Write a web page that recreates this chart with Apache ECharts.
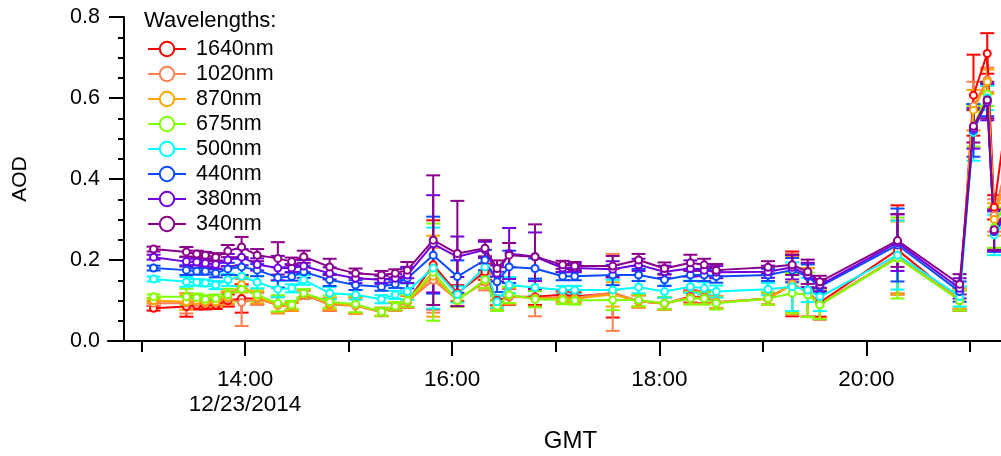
<!DOCTYPE html>
<html><head><meta charset="utf-8">
<script src="https://cdn.jsdelivr.net/npm/echarts@6/dist/echarts.min.js"></script>
<style>html,body{margin:0;padding:0;background:#fff}#c{width:1001px;height:456px}</style>
</head><body><div id="c"></div>
<script>
// ---- data ----
const times = ['13:07','13:26','13:32','13:37','13:43','13:50','13:58','14:07','14:19','14:27',
  '14:34','14:49','15:04','15:19','15:27','15:34','15:49','16:03','16:19','16:26',
  '16:33','16:48','17:04','17:11','17:33','17:48','18:03','18:18','18:26','18:33',
  '19:03','19:17','19:26','19:33','20:18','20:54','21:02','21:10','21:14','21:22'];
const wavelengths = ['1640nm','1020nm','870nm','675nm','500nm','440nm','380nm','340nm'];
const colors = ['#ff0000','#ff7f50','#ffa500','#7fff00','#00ffff','#0a4bff','#7000e0','#8b008b'];

const aod1640 = [.081,.085,.088,.088,.089,.100,.105,.105,.090,.085,.115,.090,.088,.072,.085,.097,.188,.118,.171,.100,
  .109,.109,.114,.110,.118,.098,.092,.110,.108,.095,.105,.141,.120,.095,.225,.100,.607,.710,.330,.580];
const aod1020 = [.093,.093,.095,.093,.094,.104,.095,.105,.088,.084,.115,.090,.087,.071,.085,.097,.150,.102,.145,.090,
  .110,.106,.108,.106,.120,.098,.092,.108,.107,.096,.104,.140,.120,.092,.208,.105,.580,.645,.310,.450];
const aod870 = [.100,.097,.100,.097,.097,.108,.140,.108,.090,.085,.117,.092,.088,.072,.086,.098,.160,.100,.150,.090,
  .112,.105,.105,.104,.115,.098,.093,.106,.106,.095,.104,.140,.120,.090,.205,.105,.570,.640,.300,.420];
const aod675 = [.109,.109,.107,.103,.105,.114,.128,.114,.093,.089,.118,.097,.091,.072,.086,.100,.170,.100,.151,.086,
  .114,.103,.101,.100,.101,.101,.093,.105,.105,.093,.105,.118,.114,.089,.205,.100,.530,.610,.280,.360];
const aod500 = [.153,.146,.145,.143,.138,.151,.160,.145,.128,.130,.151,.118,.114,.103,.114,.122,.180,.115,.183,.097,
  .138,.132,.126,.126,.126,.133,.122,.134,.130,.122,.128,.134,.126,.109,.212,.110,.515,.600,.262,.300];
const aod440 = [.180,.175,.172,.172,.167,.178,.183,.175,.157,.159,.171,.151,.138,.134,.141,.155,.212,.159,.200,.146,
  .183,.179,.160,.160,.163,.163,.151,.163,.163,.159,.163,.175,.159,.134,.237,.122,.520,.595,.270,.310];
const aod380 = [.207,.196,.195,.192,.189,.200,.207,.189,.180,.180,.185,.167,.155,.151,.155,.163,.240,.208,.225,.167,
  .216,.208,.180,.180,.177,.188,.171,.179,.175,.170,.171,.182,.163,.138,.243,.130,.525,.590,.272,.320];
const aod340 = [.227,.220,.215,.212,.207,.222,.232,.212,.204,.196,.208,.183,.167,.163,.167,.175,.249,.216,.229,.179,
  .212,.208,.188,.185,.185,.200,.179,.193,.188,.175,.182,.188,.171,.146,.248,.140,.530,.595,.275,.330];

const err1640 = [.006,.025,.01,.01,.01,.015,.035,.015,.02,.01,.01,.015,.02,.01,.01,.015,.11,.02,.02,.012,
  .02,.02,.01,.01,.06,.015,.015,.015,.015,.015,.015,.08,.06,.035,.11,.025,.1,.05,.03,.05];
const err1020 = [.006,.025,.01,.01,.01,.015,.058,.015,.02,.01,.01,.015,.02,.01,.01,.015,.08,.015,.02,.012,
  .02,.045,.01,.01,.095,.015,.015,.015,.015,.015,.015,.075,.06,.04,.09,.025,.06,.03,.04,.05];
const err870 = [.006,.02,.01,.01,.01,.015,.02,.015,.02,.01,.01,.015,.02,.01,.01,.015,.10,.015,.02,.012,
  .02,.02,.01,.01,.03,.015,.015,.015,.015,.015,.015,.07,.06,.035,.09,.025,.05,.03,.04,.05];
const err675 = [.006,.02,.01,.01,.01,.015,.03,.015,.02,.01,.01,.015,.02,.01,.01,.015,.12,.015,.02,.012,
  .02,.02,.01,.01,.025,.015,.015,.015,.015,.015,.015,.05,.055,.035,.10,.025,.05,.03,.05,.05];
const err500 = [.006,.012,.008,.008,.01,.015,.025,.015,.02,.01,.012,.015,.012,.01,.01,.02,.10,.02,.025,.015,
  .02,.02,.01,.01,.025,.015,.015,.015,.015,.015,.015,.06,.03,.035,.085,.025,.07,.03,.05,.05];
const err440 = [.006,.012,.008,.008,.01,.015,.02,.015,.025,.01,.015,.015,.012,.01,.01,.025,.095,.04,.025,.025,
  .04,.025,.01,.01,.025,.015,.015,.015,.015,.015,.015,.03,.03,.015,.09,.025,.065,.04,.05,.05];
const err380 = [.006,.012,.008,.008,.01,.015,.02,.015,.03,.01,.015,.015,.012,.01,.01,.02,.12,.05,.02,.02,
  .063,.06,.01,.01,.02,.015,.015,.02,.015,.015,.015,.03,.03,.015,.07,.025,.05,.045,.05,.05];
const err340 = [.006,.012,.008,.008,.01,.015,.025,.015,.04,.01,.015,.02,.012,.01,.01,.02,.16,.13,.02,.02,
  .03,.08,.01,.01,.025,.015,.015,.02,.015,.015,.015,.025,.03,.015,.065,.025,.04,.045,.05,.05];

const oddHourTicks = [13,15,17,19,21];
const labelHours = [14,16,18,20];
const dateLabel = '12/23/2014';
const yTicks = [0, 0.2, 0.4, 0.6, 0.8];
const legendTitle = 'Wavelengths:';

// ---- build ----
const aodSets = [aod1640,aod1020,aod870,aod675,aod500,aod440,aod380,aod340];
const errSets = [err1640,err1020,err870,err675,err500,err440,err380,err340];
const hours = times.map(t => { const [h,m] = t.split(':').map(Number); return h + m/60; });
const XMIN = 13 - 17.5/103.56, XMAX = 13 + 859.5/103.56;
const FONT = 'Liberation Sans, Arial, sans-serif';

function renderErr(params, api) {
  const x = api.value(0), y = api.value(1), e = api.value(2);
  const p1 = api.coord([x, y + e]);
  const p2 = api.coord([x, y - e]);
  const hw = 7;
  const style = { stroke: api.visual('color'), lineWidth: 2 };
  return { type: 'group', children: [
    { type: 'line', shape: { x1: p1[0], y1: p1[1], x2: p2[0], y2: p2[1] }, style },
    { type: 'line', shape: { x1: p1[0]-hw, y1: p1[1], x2: p1[0]+hw, y2: p1[1] }, style },
    { type: 'line', shape: { x1: p2[0]-hw, y1: p2[1], x2: p2[0]+hw, y2: p2[1] }, style }
  ]};
}

const series = [];
wavelengths.forEach((wl, i) => {
  series.push({
    type: 'custom', name: wl + ' err', xAxisIndex: 0, yAxisIndex: 0,
    renderItem: renderErr, clip: true, silent: true,
    itemStyle: { color: colors[i] },
    encode: { x: 0, y: 1 },
    data: hours.map((h, k) => [h, aodSets[i][k], errSets[i][k]])
  });
  series.push({
    type: 'line', name: wl, xAxisIndex: 0, yAxisIndex: 0, clip: true,
    symbol: 'emptyCircle', symbolSize: 7,
    color: colors[i],
    lineStyle: { width: 2, color: colors[i] },
    itemStyle: { color: colors[i], borderWidth: 1.2 },
    data: hours.map((h, k) => [h, aodSets[i][k]])
  });
});

const chart = echarts.init(document.getElementById('c'), null, { renderer: 'canvas' });
chart.setOption({
  animation: false,
  backgroundColor: '#fff',
  textStyle: { fontFamily: FONT },
  title: { text: legendTitle, left: 144, top: 10, padding: 0,
    textStyle: { fontFamily: FONT, fontSize: 22, fontWeight: 'normal', color: '#000' } },
  legend: {
    data: wavelengths, orient: 'vertical', left: 147, top: 38, padding: 0,
    itemWidth: 38, itemHeight: 18, itemGap: 3,
    textStyle: { fontFamily: FONT, fontSize: 21.5, color: '#000', lineHeight: 18, padding: [0,0,0,5] }
  },
  grid: [
    { left: 124, right: 0, top: 17, bottom: 115, containLabel: false, outerBoundsMode: 'none' },
    { left: 108, right: 0, top: 17, bottom: 115, containLabel: false, outerBoundsMode: 'none' }
  ],
  xAxis: [
    { type: 'value', gridIndex: 0, min: XMIN, max: XMAX, position: 'bottom',
      axisLine: { show: true, lineStyle: { color: '#000', width: 2 } },
      axisTick: { show: true, customValues: oddHourTicks, length: 11, lineStyle: { color: '#000', width: 2 } },
      axisLabel: { show: false }, splitLine: { show: false } },
    { type: 'value', gridIndex: 0, min: XMIN, max: XMAX, position: 'bottom',
      axisLine: { show: false },
      axisTick: { show: true, customValues: labelHours, length: 15, lineStyle: { color: '#000', width: 2 } },
      axisLabel: { show: true, customValues: labelHours, margin: 26, fontFamily: FONT, fontSize: 22.5, lineHeight: 25, color: '#000',
        formatter: v => { const h = Math.round(v); return h + ':00' + (h === labelHours[0] ? '\n' + dateLabel : ''); } },
      splitLine: { show: false },
      name: 'GMT', nameLocation: 'middle', nameGap: 88,
      nameTextStyle: { fontFamily: FONT, fontSize: 24, color: '#000', padding: [0,0,0,16] } },
    { type: 'value', gridIndex: 1, min: 0, max: 1, position: 'bottom',
      axisLine: { show: true, lineStyle: { color: '#000', width: 2 } },
      axisTick: { show: false }, axisLabel: { show: false }, splitLine: { show: false } }
  ],
  yAxis: [
    { type: 'value', gridIndex: 0, min: yTicks[0], max: yTicks[yTicks.length-1], interval: 0.2,
      axisLine: { show: true, lineStyle: { color: '#000', width: 2 } },
      axisTick: { show: true, length: 15, lineStyle: { color: '#000', width: 2 } },
      minorTick: { show: true, splitNumber: 4, length: 6, lineStyle: { color: '#000', width: 2 } },
      axisLabel: { margin: 24, fontFamily: FONT, fontSize: 21.5, color: '#000', formatter: v => v.toFixed(1) },
      splitLine: { show: false },
      name: 'AOD', nameLocation: 'middle', nameGap: 93, nameRotate: 90,
      nameTextStyle: { fontFamily: FONT, fontSize: 21, color: '#000' } },
    { type: 'value', gridIndex: 1, min: 0, max: 1, show: false }
  ],
  series
});
</script></body></html>
